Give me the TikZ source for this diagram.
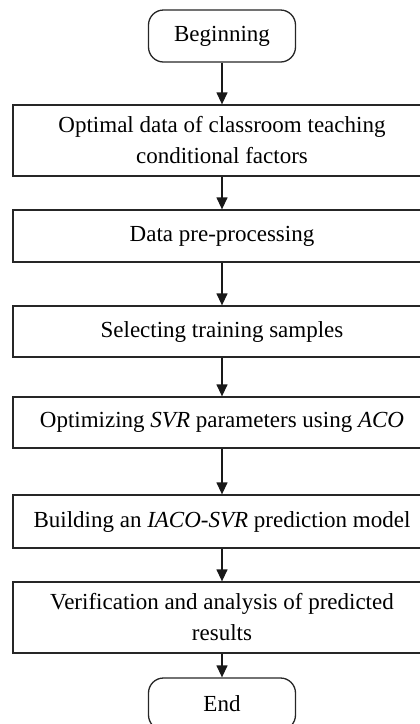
\documentclass[tikz,border=0pt]{standalone}
\usepackage{fontspec}
\setmainfont{Liberation Serif}
\usetikzlibrary{arrows.meta}
\begin{document}
\begin{tikzpicture}[x=1pt,y=1pt,
  every node/.style={font=\fontsize{23}{31}\selectfont},
  term/.style={draw=black!85, line width=1.3pt, rounded corners=15pt, minimum width=147pt, minimum height=52pt, inner sep=0pt},
  stepbox/.style={draw=black!85, line width=1.3pt, minimum width=418pt, inner sep=0pt, align=center},
  arr/.style={draw=black!90, line width=1.3pt, -{Triangle[length=12pt,width=11pt]}}]
\useasboundingbox (0,0) rectangle (420,-724);
\node[term] (b) at (222,-36) {Beginning};
\node[stepbox, minimum height=71pt] (s1) at (222,-140.5) {Optimal data of classroom teaching\\conditional factors};
\node[stepbox, minimum height=52pt] (s2) at (222,-236) {Data pre-processing};
\node[stepbox, minimum height=51pt] (s3) at (222,-331.5) {Selecting training samples};
\node[stepbox, minimum height=51pt] (s4) at (222,-422.5) {Optimizing \textit{SVR} parameters using \textit{ACO}};
\node[stepbox, minimum height=53pt] (s5) at (222,-521.5) {Building an \textit{IACO-SVR} prediction model};
\node[stepbox, minimum height=71pt] (s6) at (222,-617.5) {Verification and analysis of predicted\\results};
\node[term] (e) at (222,-704) {End};
\draw[arr] (b) -- (s1);
\draw[arr] (s1) -- (s2);
\draw[arr] (s2) -- (s3);
\draw[arr] (s3) -- (s4);
\draw[arr] (s4) -- (s5);
\draw[arr] (s5) -- (s6);
\draw[arr] (s6) -- (e);
\end{tikzpicture}
\end{document}
